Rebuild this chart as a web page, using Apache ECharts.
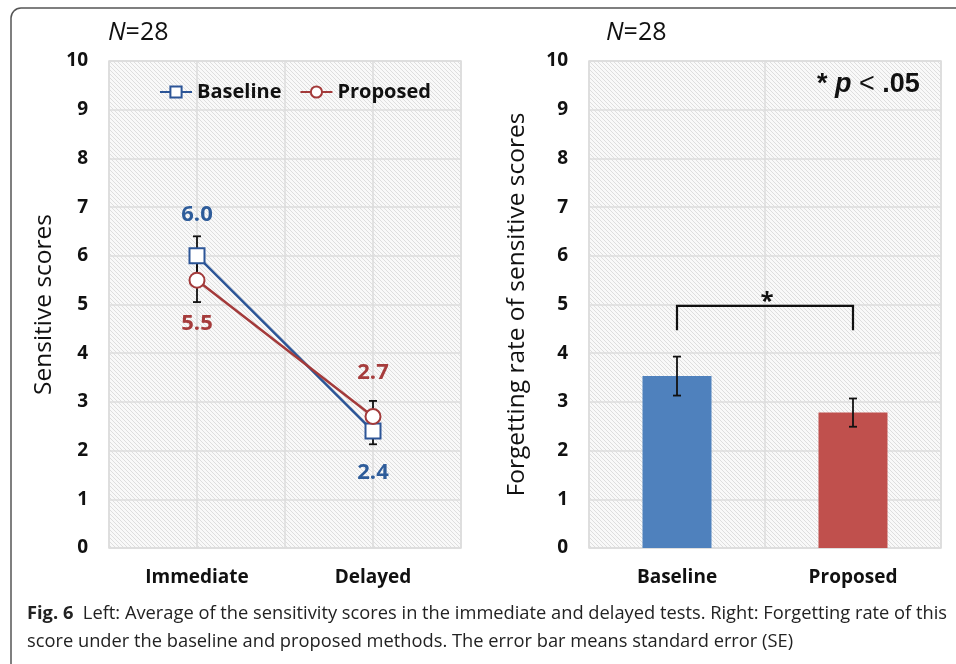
<!DOCTYPE html>
<html><head><meta charset="utf-8">
<script src="https://cdn.jsdelivr.net/npm/echarts@6/dist/echarts.min.js"></script>
<style>html,body{margin:0;padding:0;background:#fff}#c{width:956px;height:664px}</style>
</head><body><div id="c"></div>
<script>
// ---- data ----
const lineCategories = ['Immediate', 'Delayed'];
const baselineScores = [6.0, 2.4];
const baselineSE = [0.4, 0.27];
const proposedScores = [5.5, 2.7];
const proposedSE = [0.45, 0.32];
const barCategories = ['Baseline', 'Proposed'];
const forgettingRate = [3.53, 2.78];
const forgettingSE = [0.4, 0.29];
const sigBracket = [4.97, 4.47]; // top, leg end
const yTicks = [0,1,2,3,4,5,6,7,8,9,10];

// hatch pattern
const pc = document.createElement('canvas');
pc.width = 4; pc.height = 4;
const pctx = pc.getContext('2d');
pctx.fillStyle = '#f9f9f9'; pctx.fillRect(0,0,4,4);
pctx.fillStyle = '#dedede';
for (let i = 0; i < 4; i++) pctx.fillRect(i, i, 1, 1);
const hatch = {image: pc, repeat: 'repeat'};

const blueLine = '#2C5597', redLine = '#A33A3A';
const blueLbl = '#2E5C9A', redLbl = '#A63C3C';
const font = '"Open Sans", "Noto Sans", sans-serif';

function errRender(values, errs, capHalf) {
  return function (params, api) {
    const i = api.value(0);
    const v = values[i], e = errs[i];
    const top = api.coord([i, v + e]);
    const bot = api.coord([i, v - e]);
    const x = top[0];
    const st = {stroke: '#111', lineWidth: 1.8};
    return {type: 'group', children: [
      {type: 'line', shape: {x1: x, y1: top[1], x2: x, y2: bot[1]}, style: st},
      {type: 'line', shape: {x1: x - capHalf, y1: top[1], x2: x + capHalf, y2: top[1]}, style: st},
      {type: 'line', shape: {x1: x - capHalf, y1: bot[1], x2: x + capHalf, y2: bot[1]}, style: st}
    ]};
  };
}

const gridCommon = {top: 61, height: 487, width: 352, show: true, backgroundColor: hatch, borderColor: '#dcdcdc', borderWidth: 1.5};
const yAxisCommon = {
  type: 'value', min: 0, max: 10, interval: 1,
  axisLabel: {fontFamily: font, fontWeight: 'bold', fontSize: 19, color: '#111', margin: 21,
              customValues: yTicks},
  axisLine: {show: false}, axisTick: {show: false},
  splitLine: {lineStyle: {color: '#dcdcdc', width: 1.5}},
  nameLocation: 'middle',
  nameTextStyle: {fontFamily: font, fontWeight: 'normal', fontSize: 24.5, color: '#111'}
};
const xAxisCommon = {
  type: 'category',
  axisLabel: {fontFamily: font, fontWeight: 'bold', fontSize: 19, color: '#111', margin: 20},
  axisLine: {show: false},
  splitLine: {show: true, lineStyle: {color: '#dcdcdc', width: 1.5}}
};

const option = {
  animation: false,
  grid: [
    Object.assign({left: 109}, gridCommon),
    Object.assign({left: 589}, gridCommon)
  ],
  xAxis: [
    Object.assign({}, xAxisCommon, {gridIndex: 0, data: lineCategories,
      axisTick: {show: true, inside: true, length: 487, alignWithLabel: true, lineStyle: {color: '#dcdcdc', width: 1.5}}}),
    Object.assign({}, xAxisCommon, {gridIndex: 1, data: barCategories, axisTick: {show: false}})
  ],
  yAxis: [
    Object.assign({}, yAxisCommon, {gridIndex: 0, name: 'Sensitive scores', nameGap: 52}),
    Object.assign({}, yAxisCommon, {gridIndex: 1, name: 'Forgetting rate of sensitive scores', nameGap: 59})
  ],
  legend: {
    left: 154, top: 77, itemWidth: 32, itemHeight: 14, itemGap: 18,
    textStyle: {fontFamily: font, fontWeight: 'bold', fontSize: 20, color: '#111'},
    data: ['Baseline', 'Proposed']
  },
  series: [
    {type: 'custom', xAxisIndex: 0, yAxisIndex: 0, z: 1,
     renderItem: errRender(baselineScores, baselineSE, 4), data: [[0],[1]]},
    {type: 'custom', xAxisIndex: 0, yAxisIndex: 0, z: 1,
     renderItem: errRender(proposedScores, proposedSE, 4), data: [[0],[1]]},
    {name: 'Baseline', type: 'line', xAxisIndex: 0, yAxisIndex: 0, z: 3,
     symbol: 'emptyRect', symbolSize: 15,
     lineStyle: {color: blueLine, width: 2.5},
     itemStyle: {color: blueLine, borderWidth: 2},
     label: {show: true, fontFamily: font, fontWeight: 'bold', fontSize: 22, color: blueLbl, distance: 22,
             formatter: p => p.value.toFixed(1)},
     data: [
       {value: baselineScores[0], label: {position: 'top'}},
       {value: baselineScores[1], label: {position: 'bottom'}}
     ]},
    {name: 'Proposed', type: 'line', xAxisIndex: 0, yAxisIndex: 0, z: 4,
     symbol: 'emptyCircle', symbolSize: 15,
     lineStyle: {color: redLine, width: 2.5},
     itemStyle: {color: redLine, borderWidth: 2},
     label: {show: true, fontFamily: font, fontWeight: 'bold', fontSize: 22, color: redLbl, distance: 24,
             formatter: p => p.value.toFixed(1)},
     data: [
       {value: proposedScores[0], label: {position: 'bottom'}},
       {value: proposedScores[1], label: {position: 'top'}}
     ]},
    {type: 'bar', xAxisIndex: 1, yAxisIndex: 1, barWidth: 69,
     data: forgettingRate.map((v, i) => ({value: v, itemStyle: {color: i === 0 ? '#4F81BD' : '#C0504D'}}))},
    {type: 'custom', xAxisIndex: 1, yAxisIndex: 1, z: 5,
     renderItem: errRender(forgettingRate, forgettingSE, 4), data: [[0],[1]]},
    {type: 'custom', xAxisIndex: 1, yAxisIndex: 1, z: 5,
     renderItem: function (params, api) {
       const a = api.coord([0, sigBracket[0]]);
       const b = api.coord([1, sigBracket[0]]);
       const la = api.coord([0, sigBracket[1]]);
       return {type: 'group', children: [
         {type: 'polyline', shape: {points: [[a[0], la[1]], [a[0], a[1]], [b[0], b[1]], [b[0], la[1]]]},
          style: {stroke: '#111', lineWidth: 2.2, fill: null}},
         {type: 'text', x: (a[0] + b[0]) / 2 + 2, y: a[1] + 8,
          style: {text: '*', fontFamily: font, fontWeight: 'bold', fontSize: 24, fill: '#111', align: 'center', verticalAlign: 'bottom'}}
       ]};
     }, data: [[0]]}
  ],
  graphic: [
    {type: 'rect', shape: {x: 11, y: 8, width: 1000, height: 720, r: 10},
     style: {fill: null, stroke: '#555', lineWidth: 1.5}, silent: true},
    {type: 'text', left: 108, top: 20,
     style: {text: '{i|N}=28', fontFamily: font, fontSize: 25, fill: '#111',
             rich: {i: {fontStyle: 'italic', fontFamily: font, fontSize: 25, fill: '#111'}}}},
    {type: 'text', left: 606, top: 20,
     style: {text: '{i|N}=28', fontFamily: font, fontSize: 25, fill: '#111',
             rich: {i: {fontStyle: 'italic', fontFamily: font, fontSize: 25, fill: '#111'}}}},
    {type: 'text', left: 817, top: 71,
     style: {text: '* {p|p} {l|<} .05', fontFamily: 'Liberation Sans, Arial, sans-serif', fontWeight: 'bold', fontSize: 27, fill: '#111',
             rich: {p: {fontStyle: 'italic', fontWeight: 'bold', fontFamily: 'Liberation Sans, Arial, sans-serif', fontSize: 27, fill: '#111'},
                    l: {fontWeight: 'normal', fontFamily: 'Liberation Sans, Arial, sans-serif', fontSize: 27, fill: '#111'}}}},
    {type: 'text', left: 27, top: 600,
     style: {text: '{b|Fig. 6}  Left: Average of the sensitivity scores in the immediate and delayed tests. Right: Forgetting rate of this\nscore under the baseline and proposed methods. The error bar means standard error (SE)',
             fontFamily: font, fontSize: 18.3, fill: '#222', lineHeight: 28,
             rich: {b: {fontWeight: 'bold', fontFamily: font, fontSize: 18.3, fill: '#222', lineHeight: 28}}}}
  ]
};
echarts.init(document.getElementById('c')).setOption(option);
</script></body></html>
